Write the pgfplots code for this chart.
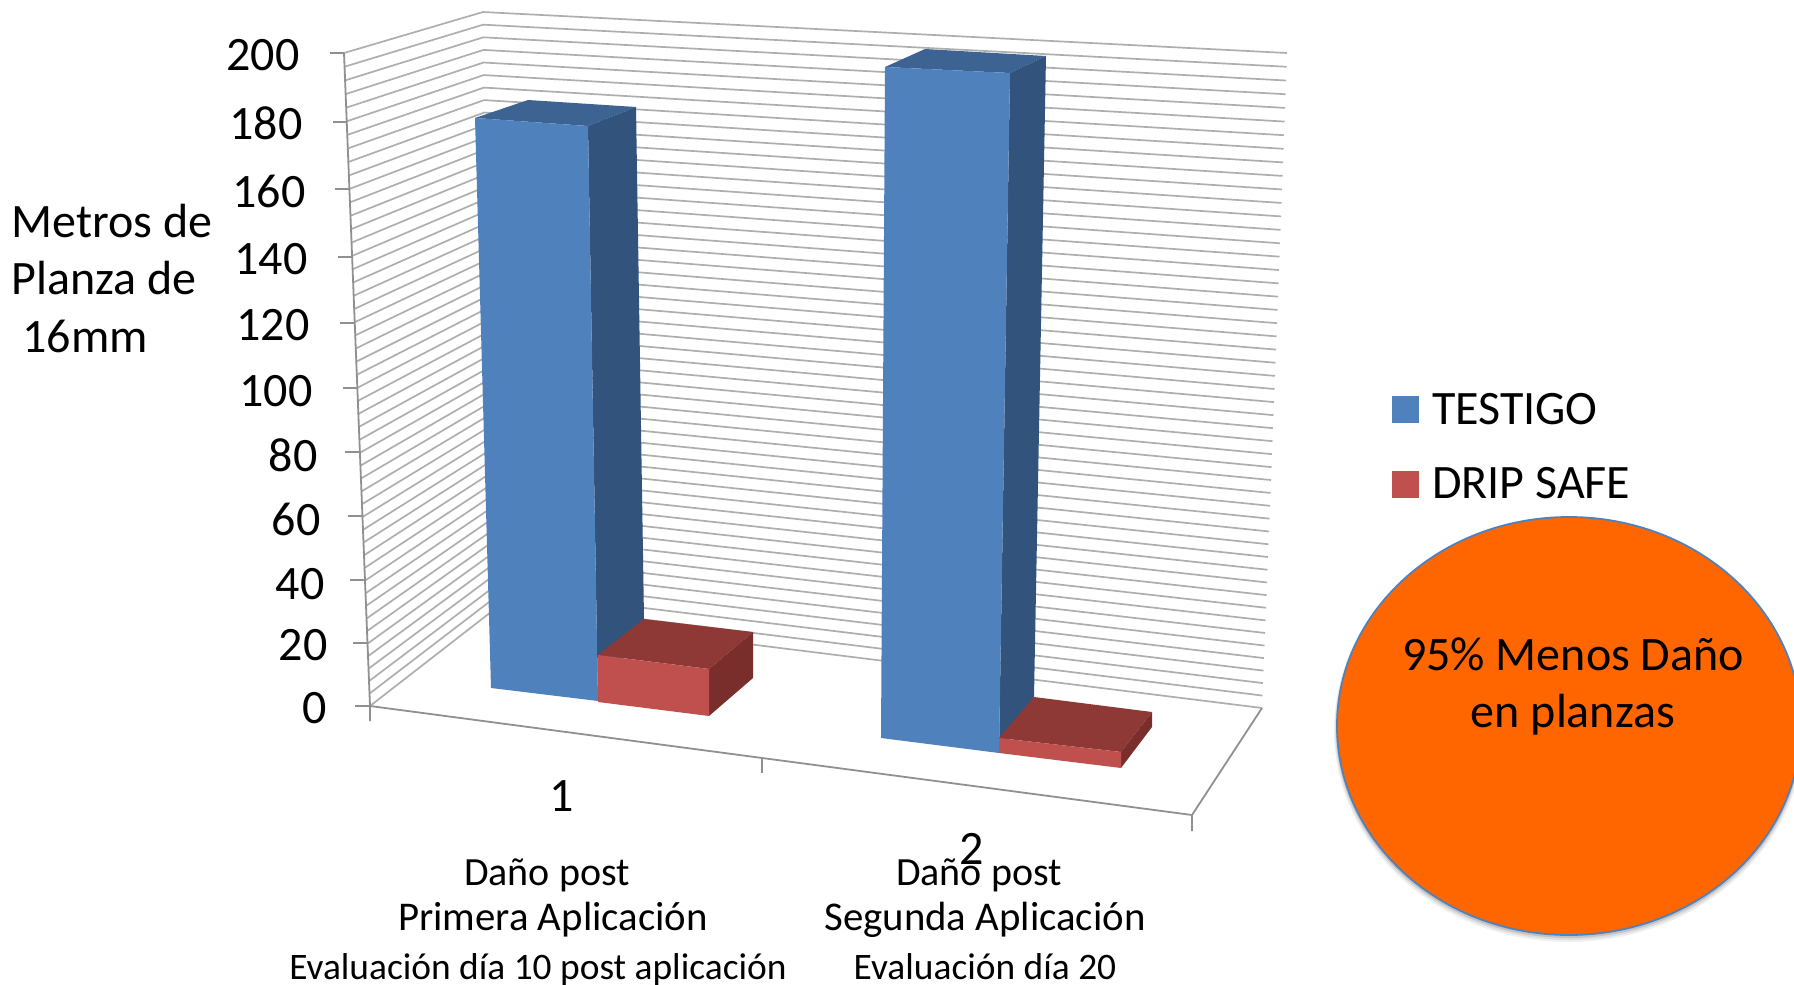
\documentclass[border=0pt]{standalone}
\usepackage{pgfplots}
\pgfplotsset{compat=1.18}
\usepackage{fontspec}
\setmainfont{Carlito}
\definecolor{gridc}{HTML}{AEAEAE}
\definecolor{axisc}{HTML}{909090}
\definecolor{blueF}{HTML}{4F81BD}
\definecolor{blueT}{HTML}{3D6392}
\definecolor{blueS}{HTML}{32537B}
\definecolor{redF}{HTML}{C0504D}
\definecolor{redT}{HTML}{8F3937}
\definecolor{redS}{HTML}{7A2E2C}
\definecolor{orangeC}{HTML}{FF6600}
\newcommand{\fs}[1]{\fontsize{#1}{#1}\selectfont}

\begin{document}
\begin{tikzpicture}
\path[use as bounding box] (0,0) rectangle (1794pt,985pt);
\begin{axis}[
    at={(0,0)}, anchor=south west,
    width=1794pt, height=985pt, scale only axis,
    xmin=0, xmax=1794, ymin=0, ymax=985,
    y dir=reverse,
    hide axis,
    clip=true,
    every node/.style={inner sep=0pt, outer sep=0pt},
]
% gridlines, t = 0..50 is value/4
\pgfplotsinvokeforeach{0,...,50}{
    \draw[gridc, line width=1.7pt]
        (axis cs:{370-26*#1/50},{706-653*#1/50+34*(#1/50)*(1-#1/50)})
        -- (axis cs:{491-8*#1/50},{612-600*#1/50+34*(#1/50)*(1-#1/50)})
        -- (axis cs:{1262+25*#1/50},{708-655*#1/50+34*(#1/50)*(1-#1/50)});
}

% axes and ticks
\addplot[axisc, line width=1.8pt] coordinates {(344,53) (370,706) (370,721)};
\addplot[axisc, line width=1.8pt] coordinates {(370,706) (1192,815) (1192,831)};
\addplot[axisc, line width=1.8pt] coordinates {(1192,815) (1262,708)};
\addplot[axisc, line width=1.8pt] coordinates {(762,758) (762,773)};
\addplot[axisc, line width=1.6pt] coordinates {(330,53) (344,53)};
\addplot[axisc, line width=1.6pt] coordinates {(333,122) (347,122)};
\addplot[axisc, line width=1.6pt] coordinates {(335,189) (349,189)};
\addplot[axisc, line width=1.6pt] coordinates {(338,257) (352,257)};
\addplot[axisc, line width=1.6pt] coordinates {(340,323) (354,323)};
\addplot[axisc, line width=1.6pt] coordinates {(343,388) (357,388)};
\addplot[axisc, line width=1.6pt] coordinates {(345,452) (359,452)};
\addplot[axisc, line width=1.6pt] coordinates {(348,516) (362,516)};
\addplot[axisc, line width=1.6pt] coordinates {(350,580) (364,580)};
\addplot[axisc, line width=1.6pt] coordinates {(353,643) (367,643)};
\addplot[axisc, line width=1.6pt] coordinates {(355,706) (370,706)};

% TESTIGO, group 1 (about 180)
\addplot[fill=blueT, draw=none] coordinates {(475,118) (528,100) (636,107) (588,126)} -- cycle;
\addplot[fill=blueS, draw=none] coordinates {(588,126) (636,107) (644,619) (598,701)} -- cycle;
\addplot[fill=blueF, draw=none] coordinates {(475,118) (588,126) (598,701) (491,688)} -- cycle;
% DRIP SAFE, group 1 (about 18)
\addplot[fill=redT, draw=none] coordinates {(598,655) (644,619) (753,632) (709,669)} -- cycle;
\addplot[fill=redS, draw=none] coordinates {(709,669) (753,632) (753,678) (709,716)} -- cycle;
\addplot[fill=redF, draw=none] coordinates {(598,655) (709,669) (709,716) (598,702)} -- cycle;
% TESTIGO, group 2 (about 195)
\addplot[fill=blueT, draw=none] coordinates {(885,67) (925,49) (1046,56) (1010,73)} -- cycle;
\addplot[fill=blueS, draw=none] coordinates {(1010,73) (1046,56) (1034,697) (999,753)} -- cycle;
\addplot[fill=blueF, draw=none] coordinates {(885,67) (1010,73) (999,753) (881,738)} -- cycle;
% DRIP SAFE, group 2 (about 5)
\addplot[fill=redT, draw=none] coordinates {(999,738) (1034,697) (1152,712) (1121,752)} -- cycle;
\addplot[fill=redS, draw=none] coordinates {(1121,752) (1152,712) (1152,727) (1121,768)} -- cycle;
\addplot[fill=redF, draw=none] coordinates {(999,738) (1121,752) (1121,768) (999,753)} -- cycle;

% legend
\addplot[fill=blueF, draw=none] coordinates {(1392,396) (1419,396) (1419,423) (1392,423)} -- cycle;
\addplot[fill=redF, draw=none] coordinates {(1392,471) (1419,471) (1419,498) (1392,498)} -- cycle;
\node[anchor=base west, font=\fs{48}] at (axis cs:1428.5,424) {TESTIGO};
\node[anchor=base west, font=\fs{48}] at (axis cs:1428.5,498) {DRIP SAFE};

% tick labels
\node[anchor=base east, font=\fs{48}] at (axis cs:303,70) {200};
\node[anchor=base east, font=\fs{48}] at (axis cs:306,139) {180};
\node[anchor=base east, font=\fs{48}] at (axis cs:309,207) {160};
\node[anchor=base east, font=\fs{48}] at (axis cs:311,274) {140};
\node[anchor=base east, font=\fs{48}] at (axis cs:313,340) {120};
\node[anchor=base east, font=\fs{48}] at (axis cs:316,406) {100};
\node[anchor=base east, font=\fs{48}] at (axis cs:321,471) {80};
\node[anchor=base east, font=\fs{48}] at (axis cs:324,535) {60};
\node[anchor=base east, font=\fs{48}] at (axis cs:328,599) {40};
\node[anchor=base east, font=\fs{48}] at (axis cs:331,660) {20};
\node[anchor=base east, font=\fs{48}] at (axis cs:330,723) {0};

% y title
\node[anchor=base west, font=\fs{48}] at (axis cs:8,237) {Metros de};
\node[anchor=base west, font=\fs{48}] at (axis cs:8,294) {Planza de};
\node[anchor=base west, font=\fs{48}] at (axis cs:19,352) {16mm};

% category labels
\node[anchor=base, font=\fs{48}] at (axis cs:562,811) {1};
\node[anchor=base, font=\fs{48}] at (axis cs:972,864) {2};
\node[anchor=base, font=\fs{40}] at (axis cs:547,885) {Daño post};
\node[anchor=base, font=\fs{40.8}] at (axis cs:553,930) {Primera Aplicación};
\node[anchor=base, font=\fs{37.4}] at (axis cs:538,979) {Evaluación día 10 post aplicación};
\node[anchor=base, font=\fs{40}] at (axis cs:979,885) {Daño post};
\node[anchor=base, font=\fs{40.8}] at (axis cs:985,930) {Segunda Aplicación};
\node[anchor=base, font=\fs{37.4}] at (axis cs:985,979) {Evaluación día 20};

% callout, with a soft shadow under it
\fill[black, opacity=0.06] (axis cs:1569,730) ellipse [x radius=235, y radius=212];
\fill[black, opacity=0.08] (axis cs:1569,729) ellipse [x radius=234, y radius=211];
\fill[black, opacity=0.12] (axis cs:1569,728) ellipse [x radius=233, y radius=210];
\draw[fill=orangeC, draw=blueF, line width=1.8pt] (axis cs:1569,726) ellipse [x radius=232, y radius=209];
\node[anchor=base, font=\fs{48}] at (axis cs:1573,670) {95\% Menos Daño};
\node[anchor=base, font=\fs{48}] at (axis cs:1573,727) {en planzas};
\end{axis}
\end{tikzpicture}
\end{document}
